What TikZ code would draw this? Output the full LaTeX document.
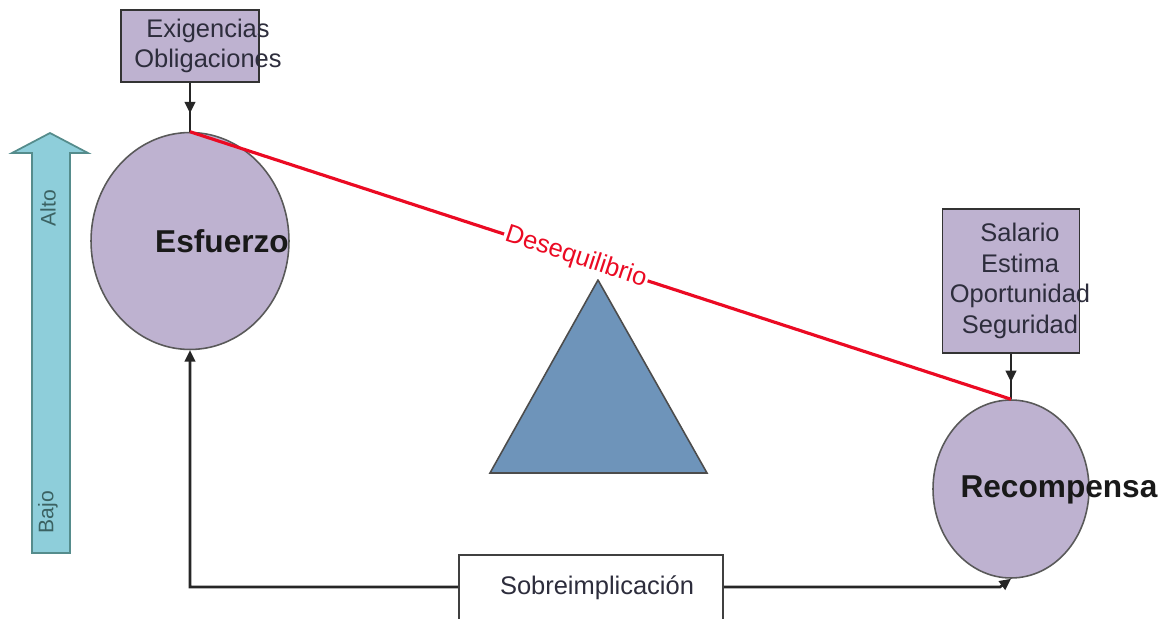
\documentclass[tikz,border=0pt]{standalone}
\usepackage{fontspec}
\setmainfont{Liberation Sans}
\usetikzlibrary{shapes.geometric,decorations.markings,arrows.meta}
\definecolor{lav}{RGB}{190,178,208}
\definecolor{cyanarr}{RGB}{142,206,218}
\definecolor{cyanedge}{RGB}{85,140,140}
\definecolor{tri}{RGB}{110,148,186}
\definecolor{txt}{RGB}{45,45,60}
\definecolor{redl}{RGB}{235,10,35}
\tikzset{
  tip/.tip={Triangle[length=6.5pt,width=6pt]},
  boxst/.style={draw=black!80, line width=1.1pt, fill=lav, inner sep=0pt},
  ellst/.style={ellipse, draw=black!65, line width=0.9pt, fill=lav, inner sep=0pt},
  lbl/.style={text=txt, align=center, font=\fontsize{14.5}{17.4}\selectfont, inner sep=0pt},
  bold/.style={text=black!90, font=\fontsize{18}{21}\selectfont\bfseries, inner sep=0pt},
  conn/.style={draw=black!85, line width=1.5pt},
  midarrow/.style={decoration={markings, mark=at position 0.62 with {\arrow{tip}}}, postaction=decorate},
  redline/.style={draw=redl, line width=1.8pt},
}
\begin{document}
\begin{tikzpicture}[x=0.02cm, y=-0.02cm]
\useasboundingbox (0,0) rectangle (1174,619);
% left scale arrow
\draw[fill=cyanarr, draw=cyanedge, line width=1pt]
  (32,553) -- (32,153) -- (12,153) -- (50,133) -- (88,153) -- (70,153) -- (70,553) -- cycle;
\node[lbl, rotate=90, text=cyanedge!70!black, font=\fontsize{12}{14}\selectfont] (alto) at (48,208) {Alto};
\node[lbl, rotate=90, text=cyanedge!70!black, font=\fontsize{12}{14}\selectfont] (bajo) at (48,512) {Bajo};
% triangle
\draw[fill=tri, draw=black!70, line width=0.9pt] (598,280) -- (707,473) -- (490,473) -- cycle;
% nodes
\node[boxst, minimum width=2.76cm, minimum height=1.44cm] (ex) at (190,46) {};
\node[lbl] (extx) at (208,46) {Exigencias\\Obligaciones};
\node[ellst, minimum width=3.96cm, minimum height=4.34cm] (esf) at (190,241) {};
\node[bold] (esftx) at (222,241) {Esfuerzo};
\node[boxst, minimum width=2.74cm, minimum height=2.88cm] (sal) at (1011,281) {};
\node[lbl] (saltx) at (1020,281) {Salario\\Estima\\Oportunidad\\Seguridad};
\node[ellst, minimum width=3.12cm, minimum height=3.56cm] (rec) at (1011,489) {};
\node[bold] (rectx) at (1059,490) {Recompensa};
% connectors
\draw[conn, midarrow] (ex.south) -- (esf.north);
\draw[conn, midarrow] (sal.south) -- (rec.north);
\coordinate (bl) at (190,587);
\coordinate (br) at (1000,587);
\draw[conn, {tip}-{tip}] (esf.south) -- (bl) -- (br) -- (rec.south);
\draw[redline] (esf.north) -- (rec.north)
  node[pos=0.47, sloped, text=redl, fill=white, font=\fontsize{14.5}{17}\selectfont, inner sep=1pt] (deseq) {Desequilibrio};
\node[draw=black!75, line width=1pt, fill=white, minimum width=5.28cm, minimum height=1.4cm, inner sep=0pt] (sob) at (591,590) {};
\node[lbl] (sobtx) at (597,588) {Sobreimplicación};
\end{tikzpicture}
\end{document}
